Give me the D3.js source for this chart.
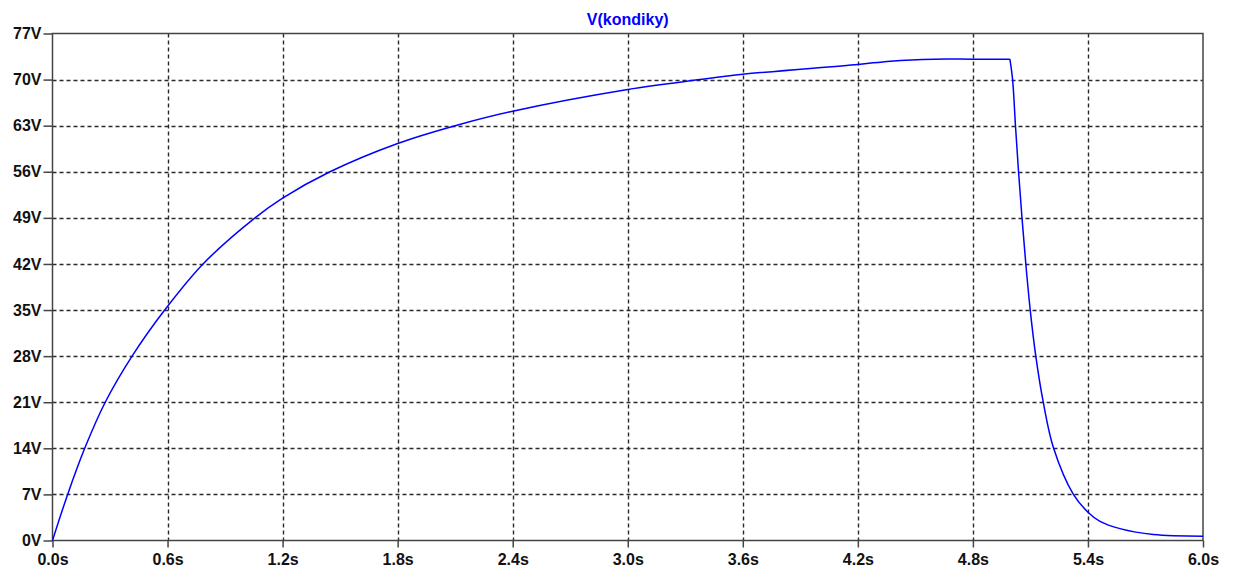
<!DOCTYPE html>
<html>
<head>
<meta charset="utf-8">
<script src="https://cdn.jsdelivr.net/npm/d3@7"></script>
<style>
  body { margin: 0; background: #fff; }
  text { font-family: "Liberation Sans", Arial, sans-serif; font-weight: bold; }
</style>
</head>
<body>
<svg width="1236" height="571"></svg>
<script>
// V(kondiky) transient, values
var times = [0, 0.079, 0.168, 0.275, 0.415, 0.585, 0.785, 1.056, 1.2, 1.447, 1.8, 2.10, 2.4, 3.0, 3.377, 3.6, 4.2, 4.37, 4.6, 4.8, 4.993,
             5.007, 5.022, 5.038, 5.056, 5.076, 5.099, 5.128, 5.167, 5.221, 5.324, 5.4, 5.463, 5.567, 5.741, 6.0];
var volts = [0, 7, 14, 21, 28, 35, 42, 49, 52.0, 56, 60.3, 63, 65.2, 68.5, 70, 70.8, 72.3, 72.8, 73.1, 73.1, 73.1,
             70, 63, 56, 49, 42, 35, 28, 21, 14, 7, 4.3, 2.9, 1.8, 0.9, 0.66];
var switchTime = 4.993; // source switched off, discharge starts
var xTicks = [0, 0.6, 1.2, 1.8, 2.4, 3.0, 3.6, 4.2, 4.8, 5.4, 6.0];
var yTicks = [0, 7, 14, 21, 28, 35, 42, 49, 56, 63, 70, 77];
var title = "V(kondiky)";

var svg = d3.select("svg"),
    pLeft = 52.5, pRight = 1203, pTop = 33.5, pBottom = 540.5;

var x = d3.scaleLinear().domain([0, 6]).range([pLeft, pRight]);
var y = d3.scaleLinear().domain([0, 77]).range([pBottom, pTop]);

// dashed grid
var grid = svg.append("g").attr("class", "grid");
grid.selectAll("line.v")
    .data(xTicks.slice(1, -1))
    .enter().append("line")
      .attr("x1", function(d) { return Math.round(x(d)) + 0.5; })
      .attr("x2", function(d) { return Math.round(x(d)) + 0.5; })
      .attr("y1", pTop).attr("y2", pBottom)
      .attr("stroke", "#2a2a2a").attr("stroke-width", 1.4)
      .attr("stroke-dasharray", "4,3");
grid.selectAll("line.h")
    .data(yTicks.slice(1, -1))
    .enter().append("line")
      .attr("y1", function(d) { return Math.round(y(d)) + 0.5; })
      .attr("y2", function(d) { return Math.round(y(d)) + 0.5; })
      .attr("x1", pLeft).attr("x2", pRight)
      .attr("stroke", "#2a2a2a").attr("stroke-width", 1.4)
      .attr("stroke-dasharray", "4,3");

// axes
var yAxis = d3.axisLeft(y).tickValues(yTicks).tickSize(9).tickPadding(2)
    .tickFormat(function(d) { return d + "V"; });
var xAxis = d3.axisBottom(x).tickValues(xTicks).tickSize(7).tickPadding(6)
    .tickFormat(function(d) { return d3.format(".1f")(d) + "s"; });

var gy = svg.append("g").attr("transform", "translate(" + pLeft + ",0)").call(yAxis);
var gx = svg.append("g").attr("transform", "translate(0," + pBottom + ")").call(xAxis);
[gy, gx].forEach(function(g) {
    g.select(".domain").remove();
    g.selectAll("line").attr("stroke", "#444").attr("stroke-width", 1.5);
    g.selectAll("text").attr("fill", "#111").style("font-size", "16px").style("font-weight", "bold");
});

// frame
svg.append("rect")
    .attr("x", pLeft).attr("y", pTop)
    .attr("width", pRight - pLeft).attr("height", pBottom - pTop)
    .attr("fill", "none").attr("stroke", "#444").attr("stroke-width", 1.5);

// trace: charge and discharge drawn as two pieces so the corner stays sharp
var pts = times.map(function(t, i) { return [t, volts[i]]; });
var pieces = [
    pts.filter(function(d) { return d[0] <= switchTime; }),
    pts.filter(function(d) { return d[0] >= switchTime; })
];
var line = d3.line()
    .x(function(d) { return x(d[0]); })
    .y(function(d) { return y(d[1]); })
    .curve(d3.curveCatmullRom.alpha(0.5));
svg.append("g").selectAll("path")
    .data(pieces)
    .enter().append("path")
      .attr("d", line)
      .attr("fill", "none")
      .attr("stroke", "#0000ff")
      .attr("stroke-width", 1.5);

// title
svg.append("text")
    .attr("x", (pLeft + pRight) / 2).attr("y", 25)
    .attr("text-anchor", "middle")
    .attr("fill", "#0000ff")
    .style("font-size", "16px")
    .text(title);
</script>
</body>
</html>
